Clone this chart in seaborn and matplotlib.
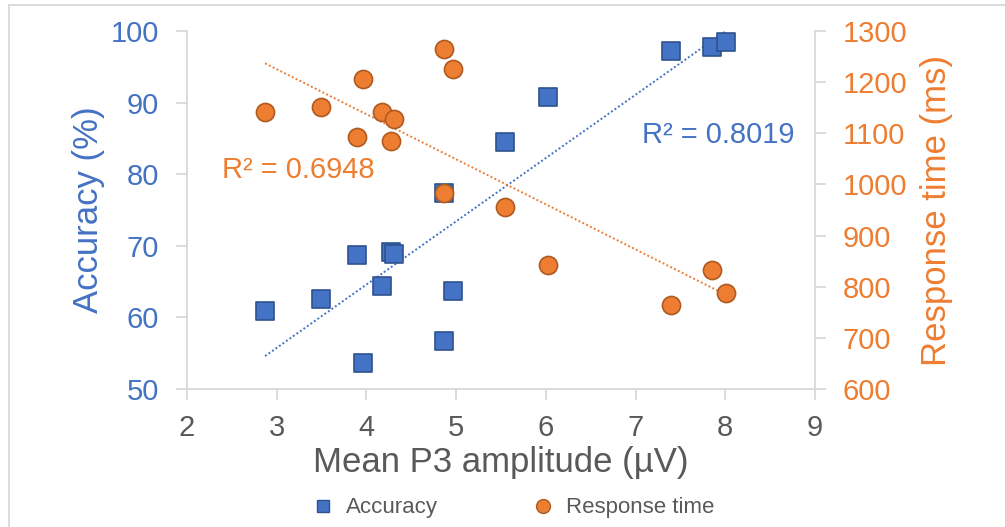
import numpy as np
import pandas as pd
import matplotlib
matplotlib.use("Agg")
import matplotlib.pyplot as plt
from matplotlib.lines import Line2D
import seaborn as sns

# ---- data ----
p3_amplitude = [2.87, 3.49, 3.90, 4.17, 4.27, 4.31, 3.96, 4.87, 4.97, 4.87, 5.55, 6.02, 7.40, 7.85, 8.01]
accuracy = [60.9, 62.6, 68.7, 64.4, 69.1, 68.8, 53.6, 56.7, 63.7, 77.4, 84.5, 90.8, 97.2, 97.8, 98.5]
response_time = [1142, 1151, 1093, 1142, 1085, 1128, 1206, 1265, 1226, 983, 956, 842, 764, 833, 788]
x_ticks = [2, 3, 4, 5, 6, 7, 8, 9]
acc_ticks = [50, 60, 70, 80, 90, 100]
rt_ticks = [600, 700, 800, 900, 1000, 1100, 1200, 1300]
r2_acc_label = "R² = 0.8019"
r2_rt_label = "R² = 0.6948"

df = pd.DataFrame({"amp": p3_amplitude, "acc": accuracy, "rt": response_time})

sns.set_style("white")
plt.rcParams["font.family"] = ["Liberation Sans", "DejaVu Sans"]

BLUE = "#4472C4"
BLUE_EDGE = "#2F528F"
ORANGE = "#ED7D31"
ORANGE_EDGE = "#AE5A21"
GRAY = "#595959"
AXIS = "#D9D9D9"

fig = plt.figure(figsize=(10.05, 5.27), dpi=100)
ax1 = fig.add_axes([187 / 1005, 138 / 527, 628 / 1005, 358 / 527])
ax2 = ax1.twinx()

# trend lines
sns.regplot(data=df, x="amp", y="acc", ax=ax1, scatter=False, ci=None, truncate=True,
            line_kws=dict(color=BLUE, ls=(0, (1, 1.2)), lw=1.4, zorder=1))
sns.regplot(data=df, x="amp", y="rt", ax=ax2, scatter=False, ci=None, truncate=True,
            line_kws=dict(color=ORANGE, ls=(0, (1, 1.2)), lw=1.4, zorder=1))

# scatter points
sns.scatterplot(data=df, x="amp", y="acc", ax=ax1, marker="s", s=150, color=BLUE,
                edgecolor=BLUE_EDGE, linewidth=1.2, zorder=3, legend=False)
sns.scatterplot(data=df, x="amp", y="rt", ax=ax2, marker="o", s=170, color=ORANGE,
                edgecolor=ORANGE_EDGE, linewidth=1.2, zorder=3, legend=False)

ax1.set_xlim(2, 9)
ax1.set_ylim(50, 100)
ax2.set_ylim(600, 1300)
ax1.set_xticks(x_ticks)
ax1.set_yticks(acc_ticks)
ax2.set_yticks(rt_ticks)

for a in (ax1, ax2):
    for s in a.spines.values():
        s.set_visible(False)
ax1.spines["left"].set_visible(True)
ax1.spines["bottom"].set_visible(True)
ax2.spines["right"].set_visible(True)
for s in (ax1.spines["left"], ax1.spines["bottom"], ax2.spines["right"]):
    s.set_color(AXIS)
    s.set_linewidth(1.3)

ax1.tick_params(axis="x", direction="out", length=8, width=1.3, color=AXIS,
                labelsize=21, labelcolor=GRAY, pad=10, bottom=True)
ax1.tick_params(axis="y", direction="out", length=8, width=1.3, color=AXIS,
                labelsize=21, labelcolor=BLUE, pad=12, left=True)
ax2.tick_params(axis="y", direction="out", length=8, width=1.3, color=AXIS,
                labelsize=21, labelcolor=ORANGE, pad=12, right=True)

ax1.set_xlabel("Mean P3 amplitude (µV)", fontsize=25, color=GRAY, labelpad=3)
ax1.set_ylabel("Accuracy (%)", fontsize=25, color=BLUE, labelpad=4)
ax2.set_ylabel("Response time (ms)", fontsize=25, color=ORANGE, labelpad=9)
ax1.grid(False)
ax2.grid(False)

ax1.text(0.056, 0.612, r2_rt_label, transform=ax1.transAxes, fontsize=21,
         color=ORANGE, ha="left", va="center")
ax1.text(0.725, 0.709, r2_acc_label, transform=ax1.transAxes, fontsize=21,
         color=BLUE, ha="left", va="center")

handles = [
    Line2D([], [], ls="none", marker="s", ms=9, color=BLUE, markeredgecolor=BLUE_EDGE),
    Line2D([], [], ls="none", marker="o", ms=10, color=ORANGE, markeredgecolor=ORANGE_EDGE),
]
fig.legend(handles, ["Accuracy", "Response time"], loc="center", ncol=2,
           bbox_to_anchor=(0.5105, 1 - 508 / 527), frameon=False, fontsize=16,
           labelcolor=GRAY, columnspacing=4.2, handletextpad=0.55, handlelength=1.0)

# outer frame lines
fig.add_artist(Line2D([8.5 / 1005, 8.5 / 1005], [0, 1 - 5 / 527], transform=fig.transFigure,
                      color=AXIS, lw=1.3))
fig.add_artist(Line2D([8.5 / 1005, 1.0], [1 - 5 / 527, 1 - 5 / 527], transform=fig.transFigure,
                      color=AXIS, lw=1.3))

fig.savefig("out.png", dpi=100, facecolor="white")
